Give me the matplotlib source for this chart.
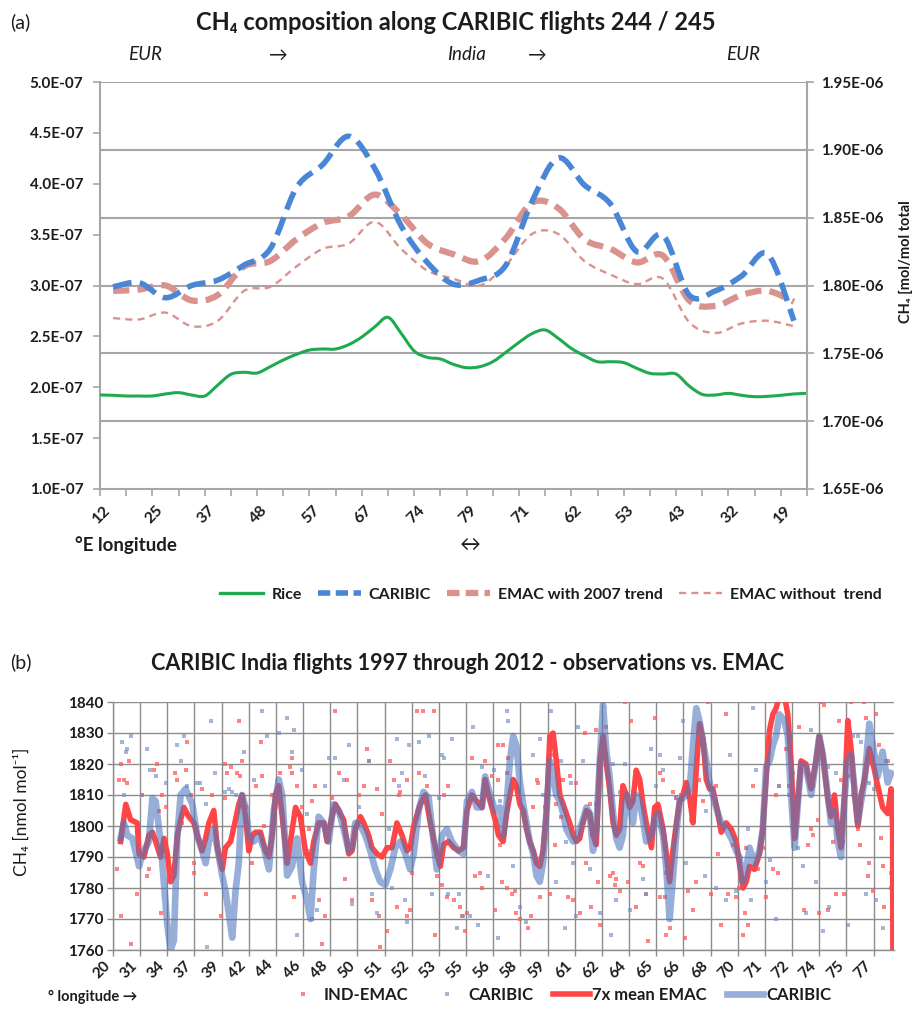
import numpy as np
import matplotlib
matplotlib.use("Agg")
import matplotlib.pyplot as plt
from matplotlib.path import Path
from matplotlib.patches import PathPatch
from matplotlib.lines import Line2D
from matplotlib.ticker import FuncFormatter, FixedLocator

plt.rcParams['font.family'] = ['Lato', 'DejaVu Sans']

# ===== panel (a): flights 244 / 245, 27 route segments
LON_A = ['12', '25', '37', '48', '57', '67', '74', '79', '71', '62', '53', '43', '32', '19']

caribic_a = [1.799, 1.802, 1.791, 1.800, 1.804, 1.815, 1.827, 1.872, 1.889, 1.910,
             1.886, 1.844, 1.817, 1.801, 1.804, 1.815, 1.862, 1.894, 1.874, 1.860,
             1.825, 1.837, 1.793, 1.796, 1.807, 1.823, 1.774]
emac_trend = [1.796, 1.797, 1.800, 1.789, 1.793, 1.814, 1.818, 1.834, 1.846, 1.851,
              1.867, 1.852, 1.831, 1.823, 1.818, 1.835, 1.861, 1.857, 1.834, 1.827,
              1.817, 1.822, 1.789, 1.785, 1.793, 1.796, 1.788]
emac_notrend = [1.776, 1.775, 1.780, 1.770, 1.774, 1.796, 1.799, 1.814, 1.827, 1.831,
                1.847, 1.827, 1.811, 1.805, 1.800, 1.815, 1.838, 1.838, 1.818, 1.808,
                1.801, 1.805, 1.773, 1.765, 1.772, 1.774, 1.770]
# rice signal (left axis, E-07), sampled every half segment
rice = [1.924, 1.921, 1.914, 1.914, 1.914, 1.934, 1.947, 1.924, 1.914, 2.022,
        2.127, 2.147, 2.140, 2.202, 2.268, 2.323, 2.366, 2.376, 2.376, 2.419,
        2.494, 2.595, 2.687, 2.530, 2.356, 2.294, 2.278, 2.225, 2.192, 2.202,
        2.251, 2.343, 2.441, 2.527, 2.563, 2.481, 2.382, 2.310, 2.251, 2.251,
        2.242, 2.186, 2.137, 2.130, 2.130, 2.012, 1.930, 1.924, 1.940, 1.921,
        1.907, 1.911, 1.921, 1.934, 1.940]

# ===== panel (b): India flights 1997-2012
LON_B = [20, 31, 34, 37, 39, 42, 44, 46, 48, 50, 51, 52, 53, 55, 56, 58, 59, 61, 62,
         64, 65, 66, 68, 70, 71, 72, 74, 75, 77]

emac7_x = [0.28, 0.47, 0.65, 0.89, 0.96, 1.14, 1.32, 1.45, 1.57, 1.75, 1.88, 2.00, 2.12,
           2.24, 2.37, 2.49, 2.61, 2.79, 2.98, 3.10, 3.28, 3.41, 3.53, 3.71, 3.84, 4.02,
           4.14, 4.33, 4.51, 4.63, 4.75, 4.88, 5.00, 5.12, 5.25, 5.43, 5.61, 5.74, 5.86,
           5.98, 6.10, 6.23, 6.41, 6.53, 6.72, 6.90, 7.08, 7.27, 7.39, 7.57, 7.76, 7.88,
           8.06, 8.19, 8.31, 8.49, 8.68, 8.80, 8.92, 9.11, 9.23, 9.41, 9.53, 9.72, 9.90,
           10.09, 10.27, 10.45, 10.64, 10.82, 10.94, 11.07, 11.31, 11.50, 11.68, 11.92,
           12.05, 12.17, 12.35, 12.54, 12.72, 12.90, 13.03, 13.21, 13.39, 13.58, 13.70,
           13.82, 14.07, 14.19, 14.36, 14.49, 14.61, 14.73, 14.85, 14.98, 15.10, 15.22,
           15.34, 15.47, 15.59, 15.71, 15.83, 15.96, 16.08, 16.20, 16.32, 16.45, 16.57,
           16.69, 16.81, 16.94, 17.06, 17.18, 17.30, 17.43, 17.55, 17.67, 17.79, 17.92,
           18.04, 18.16, 18.28, 18.41, 18.53, 18.65, 18.77, 18.90, 19.02, 19.14, 19.26,
           19.39, 19.51, 19.63, 19.82, 19.94, 20.06, 20.25, 20.37, 20.49, 20.61, 20.74,
           20.86, 20.98, 21.10, 21.23, 21.35, 21.47, 21.59, 21.72, 21.84, 21.96, 22.08,
           22.27, 22.39, 22.57, 22.76, 22.94, 23.06, 23.19, 23.31, 23.43, 23.61, 23.80,
           23.92, 24.04, 24.17, 24.29, 24.41, 24.53, 24.72, 24.84, 24.96, 25.09, 25.21,
           25.33, 25.51, 25.70, 25.88, 26.00, 26.13, 26.31, 26.43, 26.56, 26.68, 26.80,
           26.93, 27.05, 27.17, 27.30, 27.42, 27.54, 27.66, 27.84, 28.03, 28.15, 28.33,
           28.52, 28.64, 28.70, 28.71]
emac7_y = [1795, 1807, 1802, 1801, 1791, 1790, 1797, 1798, 1795, 1790, 1796, 1791, 1782,
           1784, 1797, 1802, 1806, 1803, 1801, 1797, 1792, 1796, 1801, 1805, 1793, 1786,
           1793, 1795, 1802, 1807, 1810, 1803, 1792, 1797, 1798, 1798, 1792, 1790, 1797,
           1810, 1813, 1803, 1788, 1795, 1806, 1803, 1792, 1788, 1795, 1801, 1801, 1795,
           1803, 1807, 1805, 1802, 1791, 1792, 1799, 1803, 1801, 1797, 1793, 1791, 1790,
           1793, 1793, 1801, 1797, 1792, 1793, 1800, 1807, 1810, 1801, 1791,
           1787, 1794, 1795, 1793, 1792, 1793, 1805, 1810, 1808, 1806, 1815,
           1810, 1802, 1797, 1795, 1804, 1810, 1815, 1813, 1807, 1805, 1799,
           1795, 1792, 1788, 1787, 1792, 1805, 1829, 1830, 1821, 1810, 1807,
           1804, 1801, 1797, 1795, 1796, 1801, 1805, 1804, 1797, 1794, 1821,
           1829, 1820, 1812, 1801, 1797, 1799, 1813, 1810, 1806, 1808, 1818,
           1815, 1807, 1801, 1793, 1806, 1807, 1799, 1791, 1782, 1792, 1801,
           1808, 1810, 1814, 1809, 1801, 1818, 1833, 1828, 1815, 1812, 1812,
           1804, 1798, 1801, 1799, 1795, 1788, 1780, 1782, 1787, 1786, 1791,
           1799, 1815, 1831, 1836, 1838, 1842, 1842, 1836, 1821, 1796, 1808,
           1821, 1820, 1812, 1821, 1829, 1823, 1809, 1803, 1810, 1799, 1793,
           1810, 1834, 1825, 1810, 1800, 1810, 1815, 1825, 1818, 1813, 1806,
           1804, 1812, 1799, 1755]

caribic_x = [0.28, 0.40, 0.53, 0.71, 0.96, 1.08, 1.32, 1.45, 1.57, 1.75, 1.88, 2.00, 2.12,
             2.24, 2.37, 2.49, 2.67, 2.92, 3.10, 3.28, 3.41, 3.53, 3.71, 3.84, 4.02, 4.14,
             4.26, 4.39, 4.51, 4.63, 4.75, 4.88, 5.00, 5.18, 5.37, 5.55, 5.74, 5.92, 6.10,
             6.23, 6.41, 6.59, 6.78, 6.96, 7.14, 7.27, 7.39, 7.57, 7.76, 7.94, 8.12, 8.31,
             8.49, 8.68, 8.80, 8.92, 9.11, 9.29, 9.47, 9.66, 9.84, 10.02, 10.21, 10.39,
             10.58, 10.76, 10.94, 11.07, 11.25, 11.43, 11.62, 11.80, 11.92, 12.11, 12.29,
             12.47, 12.72, 12.90, 13.03, 13.21, 13.39, 13.58, 13.70, 13.88, 14.07, 14.24,
             14.36, 14.49, 14.61, 14.73, 14.85, 14.98, 15.10, 15.22, 15.34, 15.47, 15.59,
             15.71, 15.83, 15.96, 16.08, 16.20, 16.32, 16.45, 16.57, 16.69, 16.81, 16.94,
             17.06, 17.18, 17.30, 17.43, 17.55, 17.67, 17.79, 17.92, 18.04, 18.16, 18.28,
             18.41, 18.53, 18.65, 18.77, 18.90, 19.02, 19.14, 19.26, 19.39, 19.51, 19.63,
             19.82, 19.94, 20.06, 20.25, 20.37, 20.49, 20.61, 20.74, 20.86, 20.98, 21.10,
             21.23, 21.35, 21.47, 21.59, 21.72, 21.84, 21.96, 22.08, 22.27, 22.39, 22.57,
             22.76, 22.94, 23.06, 23.19, 23.31, 23.43, 23.61, 23.80, 23.92, 24.04, 24.17,
             24.29, 24.41, 24.53, 24.72, 24.84, 24.96, 25.09, 25.21, 25.33, 25.51, 25.70,
             25.88, 26.00, 26.13, 26.31, 26.43, 26.56, 26.68, 26.80, 26.93, 27.05, 27.17,
             27.30, 27.42, 27.54, 27.66, 27.84, 28.03, 28.15, 28.33, 28.52, 28.64]
caribic_y = [1796, 1801, 1797, 1796, 1787, 1791, 1795, 1809, 1808, 1795, 1781, 1768, 1760,
             1763, 1797, 1810, 1812, 1807, 1797, 1792, 1788, 1795, 1799, 1793, 1784, 1779,
             1772, 1764, 1779, 1788, 1810, 1806, 1797, 1795, 1797, 1793, 1786, 1805, 1815,
             1810, 1784, 1787, 1796, 1782, 1776, 1770, 1786, 1803, 1801, 1795, 1807, 1805,
             1799, 1792, 1793, 1801, 1800, 1797, 1792, 1786, 1782, 1781, 1786, 1793,
             1795, 1791, 1786, 1791, 1805, 1811, 1809, 1795, 1786, 1797, 1799,
             1795, 1792, 1791, 1808, 1811, 1806, 1806, 1816, 1810, 1805, 1806,
             1797, 1807, 1821, 1829, 1826, 1814, 1807, 1801, 1795, 1791, 1784,
             1782, 1788, 1805, 1821, 1816, 1810, 1808, 1804, 1799, 1797, 1795,
             1796, 1799, 1802, 1806, 1804, 1792, 1799, 1821, 1839, 1824, 1816,
             1804, 1796, 1793, 1797, 1810, 1807, 1801, 1810, 1808, 1802, 1795,
             1797, 1802, 1804, 1797, 1786, 1770, 1783, 1798, 1808, 1809, 1810,
             1812, 1826, 1838, 1834, 1827, 1821, 1814, 1810, 1804, 1801, 1799,
             1796, 1792, 1790, 1782, 1786, 1793, 1788, 1792, 1799, 1819, 1821,
             1826, 1829, 1836, 1834, 1829, 1810, 1793, 1807, 1820, 1819, 1810,
             1821, 1829, 1823, 1810, 1801, 1805, 1795, 1790, 1809, 1821, 1823,
             1812, 1801, 1808, 1814, 1833, 1823, 1816, 1824, 1814, 1817]

ind_emac_x = [0.28, 0.22, 0.40, 0.53, 0.59, 0.16, 0.28, 0.65, 0.89, 1.08, 1.26, 1.32, 1.51,
              1.63, 1.69, 1.81, 1.94, 1.75, 2.30, 2.37, 2.55, 2.73, 2.67, 2.86, 2.98, 2.98,
              3.28, 3.41, 3.65, 3.96, 4.14, 4.14, 4.20, 4.33, 4.57, 4.63, 4.69, 4.75, 4.88,
              5.12, 5.25, 5.43, 5.49, 5.55, 5.86, 6.16, 6.53, 6.59, 6.59, 6.65, 6.78, 6.96,
              7.21, 7.33, 7.45, 7.57, 7.82, 7.70, 8.06, 8.19, 8.31, 8.55, 8.61, 8.80, 9.04,
              9.23, 9.35, 9.41, 9.53, 9.72, 9.78, 9.84, 9.90, 10.09, 10.21, 10.33, 10.45,
              10.51, 10.58, 10.82, 10.82, 10.94, 11.00, 11.19, 11.25, 11.43, 11.56, 11.80,
              11.86, 11.92, 12.11, 12.17, 12.35, 12.29, 12.54, 12.78, 12.84, 12.96, 13.03,
              13.21, 13.33, 13.52, 13.58, 13.70, 13.95, 14.07, 14.19, 14.19, 14.31,
              14.36, 14.55, 14.49, 14.24, 14.49, 14.67, 14.79, 14.85, 14.98, 15.28, 15.40,
              15.47, 15.59, 15.65, 15.71, 15.89, 16.08, 16.20, 16.26, 16.32, 16.51, 16.57,
              16.75, 16.81, 16.94, 17.06, 17.18, 17.37, 17.43, 17.55, 17.61, 17.79, 17.85,
              17.92, 18.16, 18.28, 18.41, 18.47, 18.53, 18.65, 18.84, 18.96, 19.08, 19.14,
              19.26, 19.39, 19.51, 19.63, 19.69, 19.94, 20.00, 20.12, 20.12, 20.24, 20.31,
              20.37, 20.49, 20.61, 20.74, 20.92, 21.04, 21.16, 21.35, 21.47, 21.59, 21.72,
              21.90, 22.02, 22.21, 22.27, 22.39, 22.57, 22.63, 22.82, 22.94, 23.06, 23.19,
              23.25, 23.31, 23.37, 23.55, 23.68, 23.74, 23.92, 24.04, 24.29, 24.41, 24.47,
              24.53, 24.78, 24.90, 25.02, 25.27, 25.45, 25.58, 25.70, 25.76, 25.94, 26.00,
              26.07, 26.19, 26.31, 26.50, 26.62, 26.74, 26.80, 26.86, 26.92, 27.05, 27.17,
              27.23, 27.41, 27.48, 27.66, 27.72, 27.78, 27.84, 27.97, 28.09, 28.21, 28.27,
              28.33, 28.40, 28.52, 28.64]
ind_emac_y = [1820, 1815, 1815, 1814, 1821, 1786, 1771, 1762, 1778, 1810, 1784, 1786, 1818,
              1820, 1805, 1810, 1806, 1772, 1817, 1815, 1801, 1827, 1818, 1810, 1788, 1785,
              1812, 1778, 1810, 1771, 1820, 1809, 1817, 1819, 1817, 1834, 1816, 1821, 1806,
              1788, 1813, 1827, 1816, 1800, 1810, 1817, 1819, 1822, 1817, 1777, 1813, 1806,
              1799, 1808, 1813, 1776, 1771, 1762, 1809, 1837, 1817, 1783, 1815, 1776, 1810,
              1813, 1825, 1821, 1776, 1812, 1771, 1761, 1804, 1766, 1821, 1815, 1774,
              1810, 1811, 1771, 1815, 1773, 1785, 1837, 1817, 1837, 1813, 1837,
              1765, 1784, 1781, 1810, 1813, 1777, 1776, 1774, 1771, 1766, 1772,
              1822, 1784, 1785, 1780, 1821, 1816, 1773, 1826, 1815, 1782,
              1826, 1822, 1817, 1794, 1780, 1778, 1779, 1772, 1770, 1767, 1771,
              1806, 1815, 1814, 1777, 1806, 1778, 1823, 1794, 1807, 1803, 1815,
              1777, 1816, 1776, 1814, 1772, 1830, 1788, 1807, 1774, 1831, 1782,
              1768, 1832, 1784, 1785, 1781, 1783, 1779, 1840, 1782, 1834, 1811,
              1774, 1788, 1787, 1778, 1763, 1835, 1806, 1817, 1777, 1815, 1777,
              1765, 1767, 1811, 1809, 1810, 1764, 1779, 1773, 1782, 1815, 1808,
              1840, 1778, 1813, 1791, 1768, 1836, 1778, 1794, 1777, 1780, 1765,
              1772, 1793, 1768, 1813, 1786, 1786, 1793, 1777, 1786, 1810, 1785,
              1813, 1825, 1813, 1803, 1832, 1773, 1794, 1799, 1797, 1802, 1772,
              1840, 1839, 1773, 1795, 1778, 1834, 1815, 1795, 1778, 1816, 1840,
              1810, 1799, 1794, 1840, 1835, 1784, 1788, 1779, 1836, 1826, 1796,
              1787, 1774, 1821, 1780]

caribic_pts_x = [0.34, 0.53, 0.65, 0.47, 0.40, 1.08, 1.26, 1.38, 1.57, 1.94, 2.12, 2.37, 2.49,
                 2.61, 2.73, 3.10, 3.22, 3.41, 3.47, 3.59, 3.77, 4.14, 4.26, 4.39, 4.51, 4.82,
                 5.18, 5.49, 5.67, 5.92, 6.10, 6.41, 6.59, 6.65, 6.78, 6.96, 7.14, 7.21, 7.33,
                 7.51, 7.82, 7.94, 8.19, 8.49, 8.68, 8.80, 9.04, 9.41, 9.53, 9.72, 10.15,
                 10.27, 10.45, 10.51, 10.64, 10.76, 10.82, 10.88, 11.00, 11.25, 11.50, 11.62,
                 11.74, 11.99, 12.11, 12.17, 12.35, 12.47, 12.66, 12.72, 12.90, 13.15, 13.27,
                 13.45, 13.58, 13.82, 14.01, 14.19,
                 14.24, 14.49, 14.55, 14.73, 14.98, 15.22, 15.47, 15.71, 15.83, 16.14, 16.32,
                 16.51, 16.63, 16.69, 16.87, 16.94, 17.12, 17.06, 17.30, 17.55, 17.79, 17.92,
                 18.16, 18.34, 18.41, 18.53, 18.65, 18.84, 19.02, 19.14, 19.39, 19.51, 19.63,
                 19.82, 20.00, 20.12, 20.24, 20.37, 20.74, 20.86, 20.98, 21.10, 21.29, 21.47,
                 21.59, 21.78, 21.84, 22.08, 22.21, 22.33, 22.57, 22.70, 22.94, 23.19, 23.37,
                 23.49, 23.55, 23.68, 24.04, 24.17, 24.41, 24.53, 24.90, 25.02, 25.21, 25.39,
                 25.51, 25.70, 25.76, 25.88, 26.13, 26.31, 26.37, 26.62, 26.86, 27.05, 27.23,
                 27.41, 27.54, 27.72, 27.84, 28.03, 28.09, 28.33, 28.45, 28.64]
caribic_pts_y = [1827, 1825, 1829, 1824, 1810, 1810, 1825, 1818, 1816, 1814, 1785, 1826, 1821,
                 1829, 1813, 1814, 1814, 1807, 1761, 1834, 1817, 1811, 1812, 1811, 1810, 1824,
                 1815, 1837, 1829, 1810, 1830, 1835, 1824, 1831, 1765, 1818, 1804, 1792, 1770,
                 1773, 1813, 1822, 1822, 1815, 1826, 1775, 1806, 1821, 1778, 1772, 1799,
                 1780, 1828, 1813, 1817, 1776, 1769, 1826, 1795, 1827, 1816, 1829,
                 1778, 1809, 1823, 1822, 1778, 1828, 1767, 1778, 1771, 1771, 1832,
                 1768, 1819, 1784, 1818, 1764,
                 1808, 1837, 1834, 1787, 1774, 1769, 1823, 1828, 1810, 1837, 1782,
                 1821, 1767, 1795, 1814, 1788, 1832, 1771, 1821, 1786, 1807, 1772,
                 1822, 1765, 1820, 1776, 1811, 1820, 1773, 1810, 1813, 1783, 1778,
                 1825, 1813, 1823, 1818, 1785, 1809, 1822, 1834, 1788, 1802, 1822,
                 1826, 1784, 1805, 1810, 1780, 1800, 1776, 1823, 1779, 1781, 1799,
                 1776, 1838, 1818, 1782, 1789, 1770, 1813, 1810, 1817, 1793, 1787,
                 1772, 1831, 1813, 1782, 1766, 1819, 1774, 1817, 1795, 1768, 1829,
                 1829, 1827, 1778, 1814, 1812, 1776, 1767, 1821, 1785]

RED = '#ff4545'
BLUE_LINE = '#5078be'
GRID = '#a6a6a6'
INK = '#1c1c1c'

W, H = 916, 1011


def fx(px):
    return px / W


def fy(py):
    return 1 - py / H


def smooth_path(x, y):
    # cubic Bezier through the points, like a spreadsheet "smoothed line"
    x = np.asarray(x, float)
    y = np.asarray(y, float)
    n = len(x)
    verts = [(x[0], y[0])]
    codes = [Path.MOVETO]
    for i in range(n - 1):
        xp, yp = (x[i - 1], y[i - 1]) if i > 0 else (x[i], y[i])
        xn, yn = (x[i + 2], y[i + 2]) if i + 2 < n else (x[i + 1], y[i + 1])
        c1 = (x[i] + (x[i + 1] - xp) / 6, y[i] + (y[i + 1] - yp) / 6)
        c2 = (x[i + 1] - (xn - x[i]) / 6, y[i + 1] - (yn - y[i]) / 6)
        verts += [c1, c2, (x[i + 1], y[i + 1])]
        codes += [Path.CURVE4] * 3
    return Path(verts, codes)


fig = plt.figure(figsize=(W / 100, H / 100), dpi=100)

# ================= panel (a)
ax = fig.add_axes([fx(100), fy(489), fx(807 - 100), (489 - 82) / H])
ax2 = ax.twinx()

ax.set_xlim(0, 27)
ax.set_ylim(1.0e-7, 5.0e-7)
ax2.set_ylim(1.65e-6, 1.95e-6)

# horizontal grid follows the right-hand scale
r_ticks = np.arange(1.70e-6, 1.951e-6, 0.05e-6)
for r in r_ticks:
    left_val = 1.0e-7 + (r - 1.65e-6) / 0.30e-6 * 4.0e-7
    ax.axhline(left_val, color=GRID, lw=1.5, zorder=0)

seg = np.arange(len(caribic_a)) + 0.5
rice_x = np.arange(len(rice)) * 0.5

ax.add_patch(PathPatch(smooth_path(rice_x, np.array(rice) * 1e-7), fill=False,
                       ec='#1faa4f', lw=2.2, zorder=3))
ax2.add_patch(PathPatch(smooth_path(seg, np.array(emac_notrend) * 1e-6), fill=False,
                        ec='#d9928e', lw=1.7, ls=(0, (3.0, 2.2)), zorder=3))
ax2.add_patch(PathPatch(smooth_path(seg, np.array(emac_trend) * 1e-6), fill=False,
                        ec='#d9928e', lw=4.5, ls=(0, (2.6, 1.3)), zorder=4))
ax2.add_patch(PathPatch(smooth_path(seg, np.array(caribic_a) * 1e-6), fill=False,
                        ec='#4a86d6', lw=4.0, ls=(0, (3.4, 1.5)), zorder=5))

for a in (ax, ax2):
    for s in a.spines.values():
        s.set_visible(False)
ax.spines['left'].set_visible(True)
ax.spines['bottom'].set_visible(True)
ax2.spines['right'].set_visible(True)
for s in (ax.spines['left'], ax.spines['bottom'], ax2.spines['right']):
    s.set_color(GRID)
    s.set_linewidth(1.5)

ax.yaxis.set_major_locator(FixedLocator(np.arange(1.0e-7, 5.01e-7, 0.5e-7)))
ax.yaxis.set_major_formatter(FuncFormatter(lambda v, p: f"{v:.1E}"))
ax2.yaxis.set_major_locator(FixedLocator(np.arange(1.65e-6, 1.951e-6, 0.05e-6)))
ax2.yaxis.set_major_formatter(FuncFormatter(lambda v, p: f"{v:.2E}"))
ax.tick_params(axis='y', direction='out', length=5, width=1.2, color=GRID, pad=7,
               labelsize=11, labelcolor=INK)
ax2.tick_params(axis='y', direction='out', length=5, width=1.2, color=GRID, pad=5,
                labelsize=11, labelcolor=INK)
for lbl in ax.get_yticklabels() + ax2.get_yticklabels():
    lbl.set_fontweight('bold')

ax.set_xticks(np.arange(0, 28), minor=True)
ax.set_xticks(np.arange(len(LON_A)) * 2 + 0.5)
ax.set_xticklabels(LON_A, rotation=45, ha='right', fontsize=11.5, fontweight='bold',
                   color=INK)
ax.tick_params(axis='x', which='major', length=0, pad=10)
ax.tick_params(axis='x', which='minor', direction='out', length=5, width=1.2, color=GRID)
ax.yaxis.offsetText.set_visible(False)
ax2.yaxis.offsetText.set_visible(False)

fig.text(fx(10), fy(22), '(a)', fontsize=14, va='center', ha='left', color=INK)
fig.text(fx(456), fy(22), 'CH₄ composition along CARIBIC flights 244 / 245', fontsize=17,
         fontweight='bold', ha='center', va='center', color=INK)
for txt, xp in [('EUR', 145), ('→', 278), ('India', 467), ('→', 537), ('EUR', 743)]:
    fig.text(fx(xp), fy(55), txt, fontsize=13.5, style='italic', ha='center', va='center',
             color=INK)
fig.text(fx(75), fy(545), '°E longitude', fontsize=13.5, fontweight='bold', ha='left',
         va='center', color=INK)
fig.text(fx(470), fy(545), '↔', fontsize=15, ha='center', va='center', color=INK)
fig.text(fx(906), fy(262), 'CH₄ [mol/mol total', fontsize=10.5, fontweight='bold',
         rotation=90, ha='center', va='center', color=INK)

handles_a = [
    Line2D([], [], color='#1faa4f', lw=2.4),
    Line2D([], [], color='#4a86d6', lw=4.0, ls=(0, (2.2, 1.0))),
    Line2D([], [], color='#d9928e', lw=4.5, ls=(0, (2.0, 1.0))),
    Line2D([], [], color='#d9928e', lw=1.7, ls=(0, (3.0, 2.2))),
]
leg_a = fig.legend(handles_a, ['Rice', 'CARIBIC', 'EMAC with 2007 trend', 'EMAC without  trend'],
                   loc='center', bbox_to_anchor=(fx(551), fy(595)), ncol=4, frameon=False,
                   handlelength=2.7, handletextpad=0.5, columnspacing=1.0,
                   prop={'size': 11.5, 'weight': 'bold'})
for t in leg_a.get_texts():
    t.set_color(INK)

# ================= panel (b)
bx = fig.add_axes([fx(113), fy(950), fx(894 - 113), (950 - 702) / H])
bx.set_xlim(0, 28.75)
bx.set_ylim(1760, 1840)

bx.plot(ind_emac_x, ind_emac_y, ls='none', marker='s', ms=3.2, mew=0, color='#ff5a5a',
        alpha=0.75, zorder=2)
bx.plot(caribic_pts_x, caribic_pts_y, ls='none', marker='s', ms=3.2, mew=0,
        color='#6f8fc4', alpha=0.65, zorder=2)
bx.plot(emac7_x, emac7_y, color=RED, lw=4.0, zorder=3, solid_joinstyle='round')
bx.plot(caribic_x, caribic_y, color=BLUE_LINE, lw=4.8, alpha=0.6, zorder=4,
        solid_joinstyle='round')

bx.set_xticks(np.arange(len(LON_B)))
bx.set_xticklabels([str(v) for v in LON_B], rotation=45, ha='right', fontsize=11,
                   fontweight='bold', color=INK)
bx.set_yticks(np.arange(1760, 1841, 10))
bx.tick_params(axis='y', direction='out', length=4, width=1.0, color='#8c8c8c', pad=3,
               labelsize=11, labelcolor=INK)
bx.tick_params(axis='x', direction='out', length=4, width=1.0, color='#8c8c8c', pad=2)
for lbl in bx.get_yticklabels():
    lbl.set_fontweight('bold')
bx.grid(True, color='#8c8c8c', lw=1.0)
bx.set_axisbelow(True)
for s in ('top', 'right'):
    bx.spines[s].set_visible(False)
for s in ('left', 'bottom'):
    bx.spines[s].set_color('#8c8c8c')
    bx.spines[s].set_linewidth(1.0)

fig.text(fx(10), fy(662), '(b)', fontsize=14, va='center', ha='left', color=INK)
fig.text(fx(468), fy(663), 'CARIBIC India flights 1997 through 2012 - observations vs. EMAC',
         fontsize=15.5, fontweight='bold', ha='center', va='center', color=INK)
fig.text(fx(22), fy(812), 'CH₄ [nmol mol⁻¹]', fontsize=12.5, rotation=90, ha='center',
         va='center', color=INK)
fig.text(fx(48), fy(997), '° longitude →', fontsize=10.5, fontweight='bold', ha='left',
         va='center', color=INK)

handles_b = [
    Line2D([], [], ls='none', marker='s', ms=3.4, mew=0, color='#ff5a5a', alpha=0.75),
    Line2D([], [], ls='none', marker='s', ms=3.4, mew=0, color='#6f8fc4', alpha=0.65),
    Line2D([], [], color=RED, lw=4.0),
    Line2D([], [], color=BLUE_LINE, lw=4.8, alpha=0.6),
]
leg_b = fig.legend(handles_b, ['IND-EMAC', 'CARIBIC', '7x mean EMAC', 'CARIBIC'],
                   loc='center', bbox_to_anchor=(fx(558), fy(995)), ncol=4, frameon=False,
                   handlelength=2.2, handletextpad=0.15, columnspacing=1.2,
                   prop={'size': 12, 'weight': 'bold'})
for t in leg_b.get_texts():
    t.set_color(INK)

fig.savefig('out.png', dpi=100)
